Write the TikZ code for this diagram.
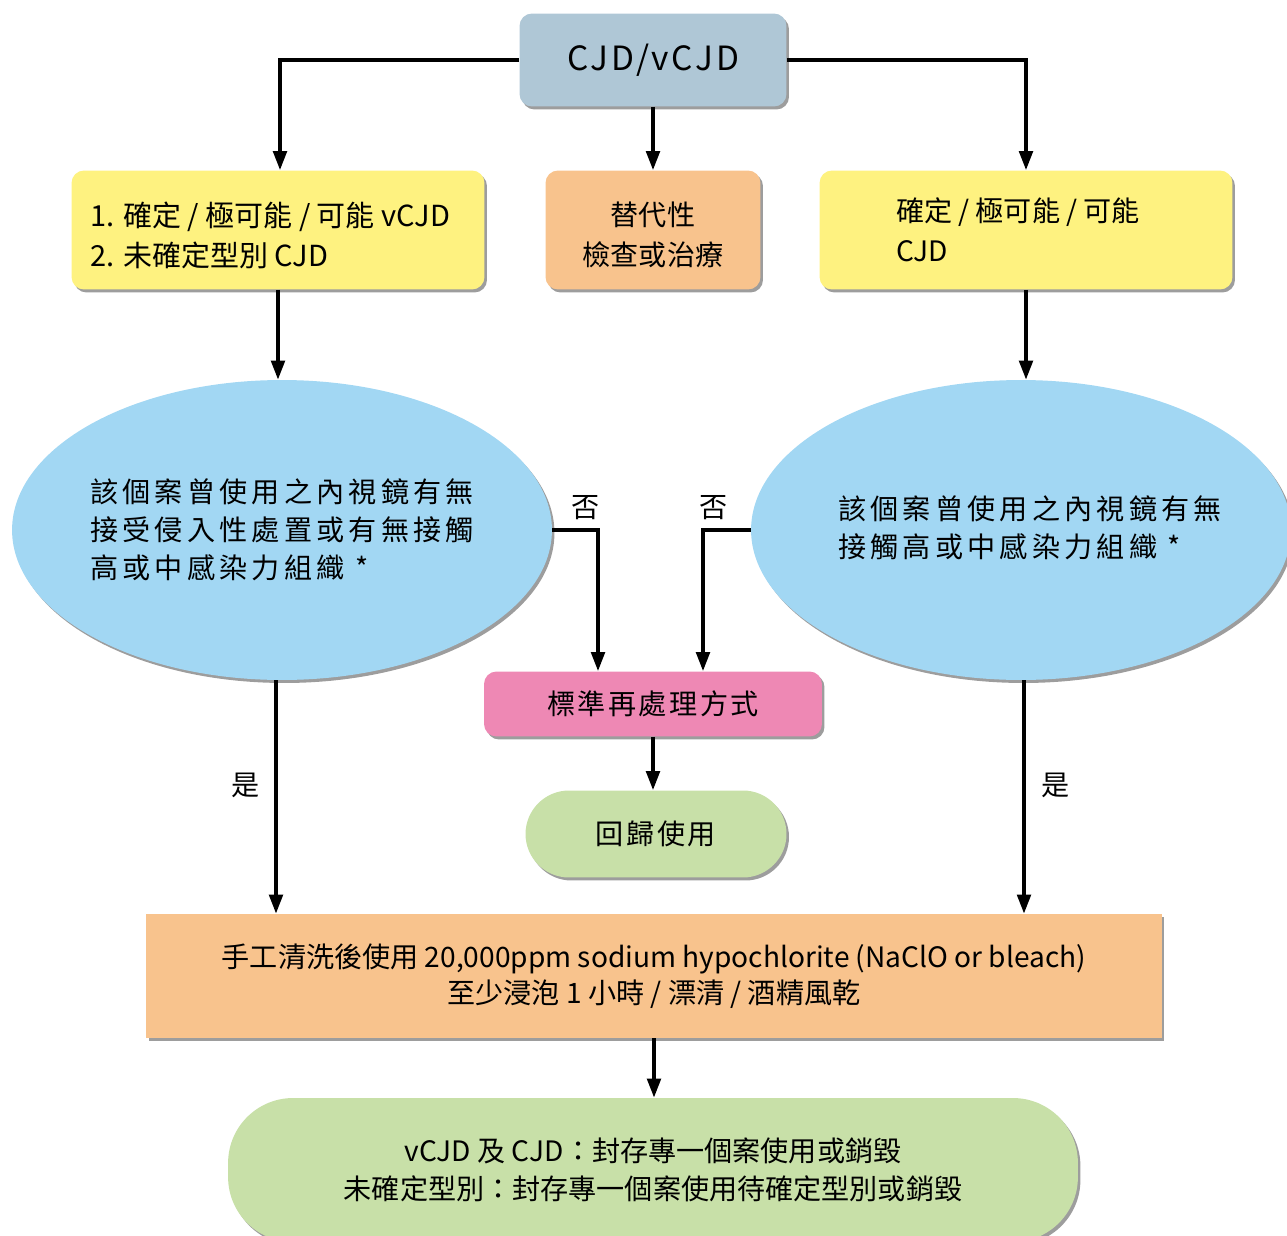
\documentclass[tikz,border=0pt]{standalone}
\usepackage{fontspec}
\setmainfont{Noto Sans CJK TC}
\usepackage{tikz}
\usetikzlibrary{shapes,arrows,arrows.meta,shadows}
\definecolor{topblue}{HTML}{AFC7D6}
\definecolor{boxyellow}{HTML}{FEF280}
\definecolor{boxorange}{HTML}{F8C38D}
\definecolor{ellblue}{HTML}{A2D7F3}
\definecolor{boxpink}{HTML}{EE88B4}
\definecolor{boxgreen}{HTML}{C8E0A8}
\tikzstyle{block} = [rectangle, rounded corners=0.25cm, minimum height=2.38cm,
    drop shadow={shadow xshift=0.05cm, shadow yshift=-0.06cm, opacity=0.7, fill=black!55}]
\tikzstyle{decision} = [ellipse, fill=ellblue, minimum width=10.8cm, minimum height=6cm,
    drop shadow={shadow xshift=0.05cm, shadow yshift=-0.06cm, opacity=0.7, fill=black!55}]
\tikzstyle{pill} = [rectangle, fill=boxgreen, align=center,
    drop shadow={shadow xshift=0.05cm, shadow yshift=-0.06cm, opacity=0.7, fill=black!55}]
\tikzstyle{line} = [draw, line width=2pt, -{Triangle[length=0.38cm,width=0.27cm]}]
\newcommand{\txt}{\fontsize{16}{22.7}\selectfont}
\newcommand{\spaced}[1]{\addfontfeature{LetterSpace=#1}}

\begin{document}
\begin{tikzpicture}[x=0.02cm, y=-0.02cm, font=\txt]
\useasboundingbox (0,0) rectangle (1287,1236);
% top row
\node [block, fill=topblue, minimum width=5.34cm, minimum height=1.86cm] (cjd) at (653,60)
    {\fontsize{19}{22}\selectfont\spaced{8}CJD/vCJD};
\node [block, fill=boxyellow, minimum width=8.26cm] (vcjd) at (278,230)
    {\parbox{7.5cm}{\vspace{0.2cm}\fontsize{16.5}{22.7}\selectfont 1. 確定 / 極可能 / 可能 vCJD\\2. 未確定型別 CJD}};
\node [block, fill=boxorange, minimum width=4.3cm] (alt) at (653,230)
    {\parbox{4cm}{\centering\vspace{0.2cm}替代性\\檢查或治療}};
\node [block, fill=boxyellow, minimum width=8.26cm] (scjd) at (1026,230)
    {\parbox{5.2cm}{確定 / 極可能 / 可能\\CJD}};
% questions
\node [decision] (qleft) at (282,530) {};
\node [font=\fontsize{16}{21.5}\selectfont\spaced{15}, align=left] (qleftText) at (qleft.center)
    {該個案曾使用之內視鏡有無\\接受侵入性處置或有無接觸\\高或中感染力組織 *};
\node [decision] (qright) at (1021,530) {};
\node [font=\fontsize{16}{21.5}\selectfont\spaced{15}, align=left] (qrightText) at (1030,528)
    {該個案曾使用之內視鏡有無\\接觸高或中感染力組織 *};
% outcomes
\node [block, fill=boxpink, minimum width=6.76cm, minimum height=1.3cm, font=\txt\spaced{9}] (std) at (653,704)
    {標準再處理方式};
\node [pill, rounded corners=0.87cm, minimum width=5.22cm, minimum height=1.74cm, font=\txt\spaced{9}] (reuse) at (656,834)
    {回歸使用};
\node [block, rounded corners=0cm, fill=boxorange, minimum width=20.32cm, minimum height=2.48cm,
    align=center, font=\fontsize{16}{20.4}\selectfont] (soak) at (654,976)
    {手工清洗後使用 20,000ppm sodium hypochlorite (NaClO or bleach)\\至少浸泡 1 小時 / 漂清 / 酒精風乾};
\node [pill, rounded corners=1.3cm, minimum width=17cm, minimum height=2.88cm,
    font=\fontsize{16}{21.5}\selectfont] (keep) at (653,1170)
    {vCJD 及 CJD：封存專一個案使用或銷毀\\未確定型別：封存專一個案使用待確定型別或銷毀};
% labels
\node (noL) at (586,508) {否};
\node (noR) at (714,508) {否};
\node (yesL) at (246,785) {是};
\node (yesR) at (1056,785) {是};
% connectors
\path [line] (cjd.west) -| ([xshift=0.04cm]vcjd.north);
\path [line] (cjd.south) -- (alt.north);
\path [line] (cjd.east) -| (scjd.north);
\path [line] (vcjd.south) -- (vcjd.south |- qleft.north);
\path [line] (scjd.south) -- (scjd.south |- qright.north);
\path [line] (qleft.east) -| ([xshift=-1.1cm]std.north);
\path [line] (qright.west) -| ([xshift=1cm]std.north);
\path [line] (std.south) -- (std.south |- reuse.north);
\path [line] ([xshift=-0.12cm]qleft.south) -- ([xshift=-0.12cm]qleft.south |- soak.north);
\path [line] ([xshift=0.06cm]qright.south) -- ([xshift=0.06cm]qright.south |- soak.north);
\path [line] (soak.south) -- (soak.south |- keep.north);
\end{tikzpicture}
\end{document}
